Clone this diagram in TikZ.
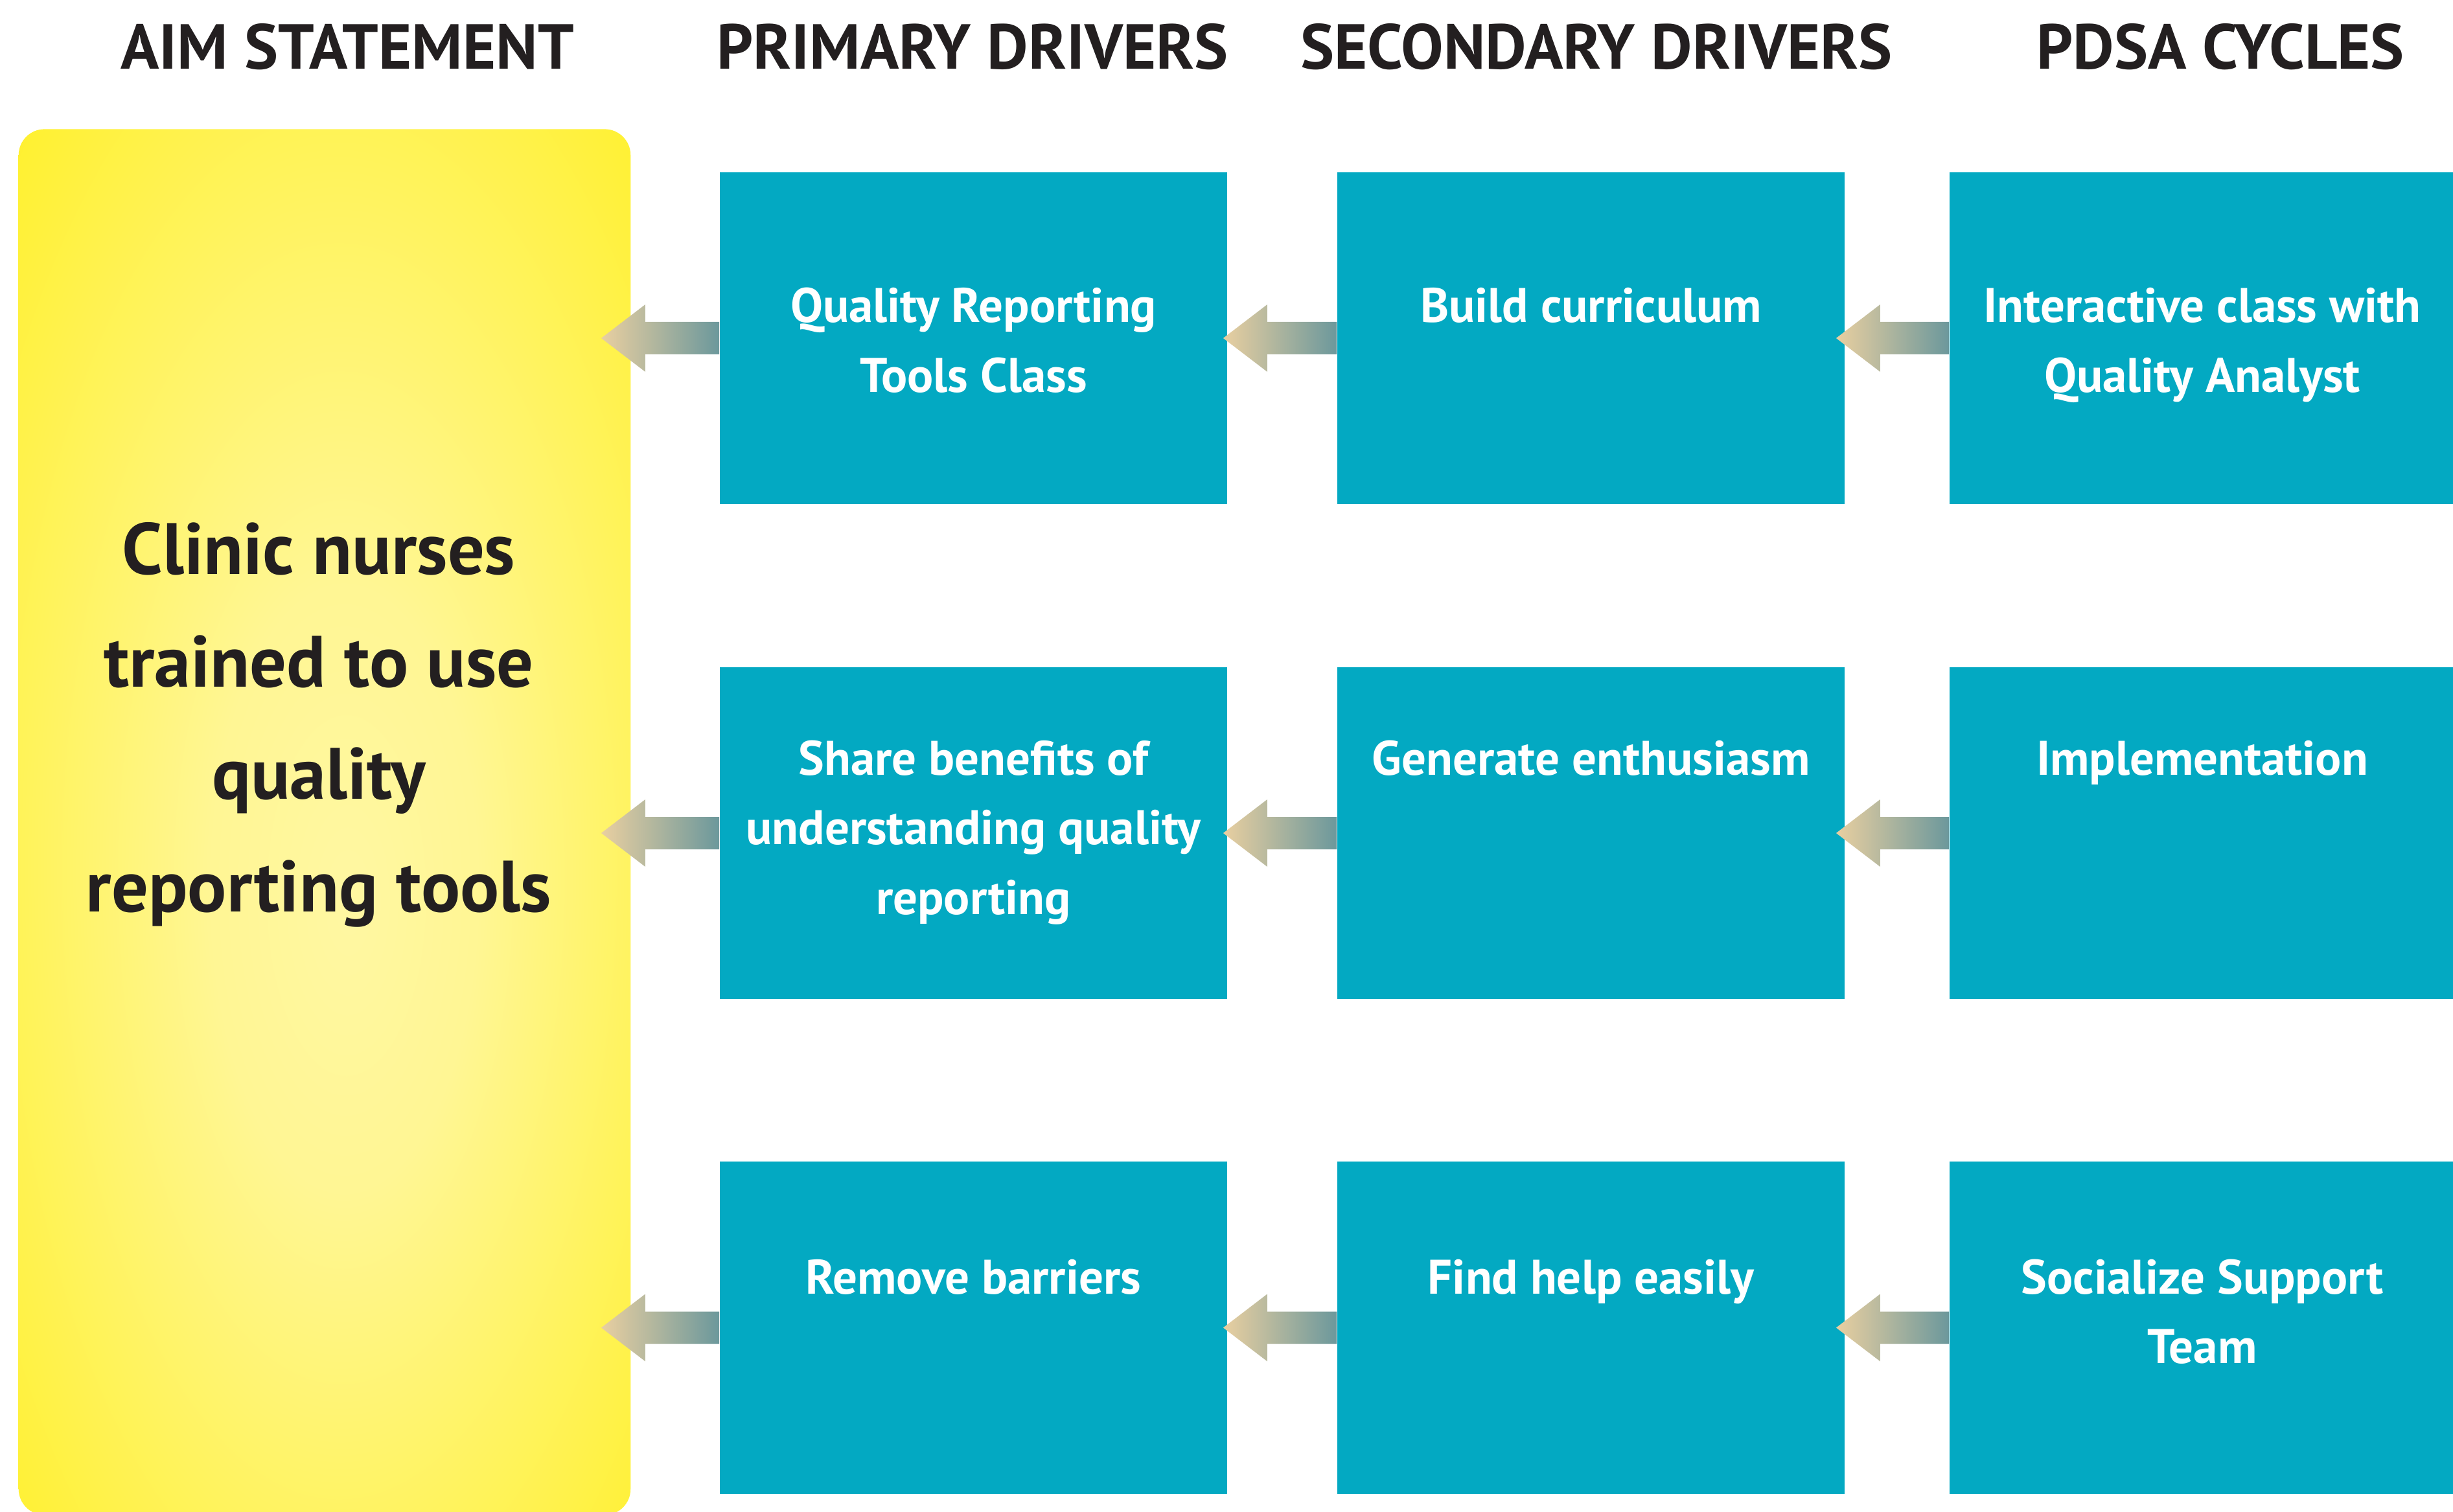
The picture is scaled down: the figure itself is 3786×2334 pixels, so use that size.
\documentclass[tikz,border=0pt]{standalone}
\usepackage{fontspec}
\setmainfont{PT Sans}
\usetikzlibrary{calc}
\definecolor{boxblue}{RGB}{3,169,194}
\definecolor{ink}{RGB}{35,31,32}
\definecolor{yelEdge}{RGB}{255,240,42}
\definecolor{yelCenter}{RGB}{255,247,162}
\definecolor{arrL}{RGB}{233,207,160}
\definecolor{arrR}{RGB}{108,152,156}
\pgfdeclareradialshading{aimshade}{\pgfpoint{2bp}{-3bp}}{color(0bp)=(yelCenter); color(11bp)=(yelCenter!88!yelEdge); color(38bp)=(yelEdge); color(55bp)=(yelEdge)}
\newcommand\mlines[1]{\begin{tabular}[t]{@{}c@{}}#1\end{tabular}}
\newcommand\gradarrow[3]{%
  \coordinate (T) at ($(#2.east |- #1.west)+(-#3,0)$);
  \shade[left color=arrL, right color=arrR]
    (T) -- ($(T)+(68,-52)$) -- ($(T)+(68,-25)$) -- ($(#1.west)+(0,-25)$)
    -- ($(#1.west)+(0,25)$) -- ($(T)+(68,25)$) -- ($(T)+(68,52)$) -- cycle;}
\begin{document}
\begin{tikzpicture}[x=0.01cm,y=-0.01cm,
  header/.style={anchor=base, inner sep=0, text=ink, font=\fontsize{27.9}{32}\selectfont\bfseries},
  drvbox/.style={rectangle, fill=boxblue, draw=none, inner sep=0, minimum width=7.83cm, minimum height=5.12cm},
  drvtext/.style={anchor=base, inner sep=0, text=white, font=\fontsize{21.3}{30.7}\selectfont\bfseries},
  aimbox/.style={rectangle, shading=aimshade, draw=none, inner sep=0, rounded corners=0.4cm, minimum width=9.44cm, minimum height=21.38cm},
  aimtext/.style={anchor=base, inner sep=0, text=ink, font=\fontsize{31.9}{49.3}\selectfont\bfseries}]
\useasboundingbox (0,0) rectangle (3786,2334);
% headers
\node[header] (h0) at (536,107) {AIM STATEMENT};
\node[header] (h1) at (1501,107) {PRIMARY DRIVERS};
\node[header] (h2) at (2464,107) {SECONDARY DRIVERS};
\node[header] (h3) at (3427,107) {PDSA CYCLES};
% aim statement
\node[aimbox] (aim) at (501,1269) {};
\node[aimtext] (aimt) at (492,887) {\mlines{Clinic nurses\\trained to use\\quality\\reporting tools}};
% driver boxes
\node[drvbox] (p1) at (1502.5,522) {};
\node[drvbox] (p2) at (1502.5,1286) {};
\node[drvbox] (p3) at (1502.5,2049.5) {};
\node[drvbox] (s1) at (2455.5,522) {};
\node[drvbox] (s2) at (2455.5,1286) {};
\node[drvbox] (s3) at (2455.5,2049.5) {};
\node[drvbox] (c1) at (3400.5,522) {};
\node[drvbox] (c2) at (3400.5,1286) {};
\node[drvbox] (c3) at (3400.5,2049.5) {};
% texts
\node[drvtext] (p1t) at (1502.5,498) {\mlines{Quality Reporting\\Tools Class}};
\node[drvtext] (s1t) at (2455.5,498) {\mlines{Build curriculum}};
\node[drvtext] (c1t) at (3399,498) {\mlines{Interactive class with\\Quality Analyst}};
\node[drvtext] (p2t) at (1502.5,1196) {\mlines{Share benefits of\\understanding quality\\reporting}};
\node[drvtext] (s2t) at (2455.5,1196) {\mlines{Generate enthusiasm}};
\node[drvtext] (c2t) at (3399,1196) {\mlines{Implementation}};
\node[drvtext] (p3t) at (1502.5,1997) {\mlines{Remove barriers}};
\node[drvtext] (s3t) at (2455.5,1997) {\mlines{Find help easily}};
\node[drvtext] (c3t) at (3399,1997) {\mlines{Socialize Support\\Team}};
% arrows
\gradarrow{p1}{aim}{46}
\gradarrow{p2}{aim}{46}
\gradarrow{p3}{aim}{46}
\gradarrow{s1}{p1}{7}
\gradarrow{s2}{p2}{7}
\gradarrow{s3}{p3}{7}
\gradarrow{c1}{s1}{14}
\gradarrow{c2}{s2}{14}
\gradarrow{c3}{s3}{14}
\end{tikzpicture}
\end{document}
